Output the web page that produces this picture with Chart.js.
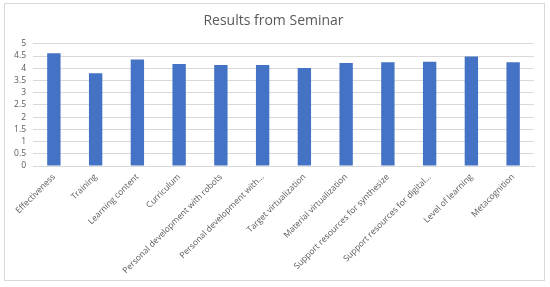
<!DOCTYPE html>
<html lang="en">
  <head>
    <meta charset="UTF-8" />
    <script src="https://cdn.jsdelivr.net/npm/chart.js@4.4.0/dist/chart.umd.min.js"></script>
    <title>Results from Seminar</title>
    <style>
      body {
        margin: 0;
        padding: 0;
        background: white;
      }

      .container {
        position: absolute;
        left: 4px;
        top: 3px;
        width: 541px;
        height: 278px;
        border: 1px solid #d9d9d9;
        box-sizing: border-box;
      }
    </style>
  </head>
  <body>
    <div class="container">
      <canvas id="chart"></canvas>
    </div>
    <script>
      const categories = [
        'Effectiveness',
        'Training',
        'Learning content',
        'Curriculum',
        'Personal development with robots',
        'Personal development with...',
        'Target virtualization',
        'Material virtualization',
        'Support resources for synthesize',
        'Support resources for digital...',
        'Level of learning',
        'Metacognition',
      ]
      const scores = [4.61, 3.79, 4.36, 4.17, 4.13, 4.13, 4.01, 4.21, 4.24, 4.27, 4.48, 4.25]
      const yTicks = [0, 0.5, 1, 1.5, 2, 2.5, 3, 3.5, 4, 4.5, 5]

      const labelFont = { family: 'Open Sans', size: 8.5 }

      new Chart(document.getElementById('chart'), {
        type: 'bar',
        data: {
          labels: categories,
          datasets: [
            {
              data: scores,
              backgroundColor: '#4472c4',
              barPercentage: 0.32,
              categoryPercentage: 1,
            },
          ],
        },
        options: {
          responsive: true,
          maintainAspectRatio: false,
          animation: false,
          layout: { padding: { left: 8, right: 10, top: 0, bottom: 0 } },
          plugins: {
            title: {
              display: true,
              text: 'Results from Seminar',
              color: '#595959',
              font: { family: 'Open Sans', size: 14, weight: 'normal' },
              padding: { top: 9, bottom: 14 },
            },
            legend: { display: false },
            tooltip: { enabled: false },
          },
          scales: {
            x: {
              grid: { display: false, drawTicks: false },
              border: { color: '#d9d9d9' },
              afterFit: (axis) => {
                axis.height = 114
                axis.paddingLeft = 0
                axis.paddingRight = 0
              },
              ticks: {
                color: '#595959',
                font: labelFont,
                minRotation: 45,
                maxRotation: 45,
                padding: 6,
              },
            },
            y: {
              min: 0,
              max: 5,
              afterBuildTicks: (axis) => {
                axis.ticks = yTicks.map((v) => ({ value: v }))
              },
              afterFit: (axis) => {
                axis.width = 20
              },
              grid: { color: '#d9d9d9', drawTicks: false },
              border: { display: false },
              ticks: {
                color: '#595959',
                font: labelFont,
                padding: 7,
                autoSkip: false,
                callback: (v) => String(v),
              },
            },
          },
        },
      })
    </script>
  </body>
</html>
